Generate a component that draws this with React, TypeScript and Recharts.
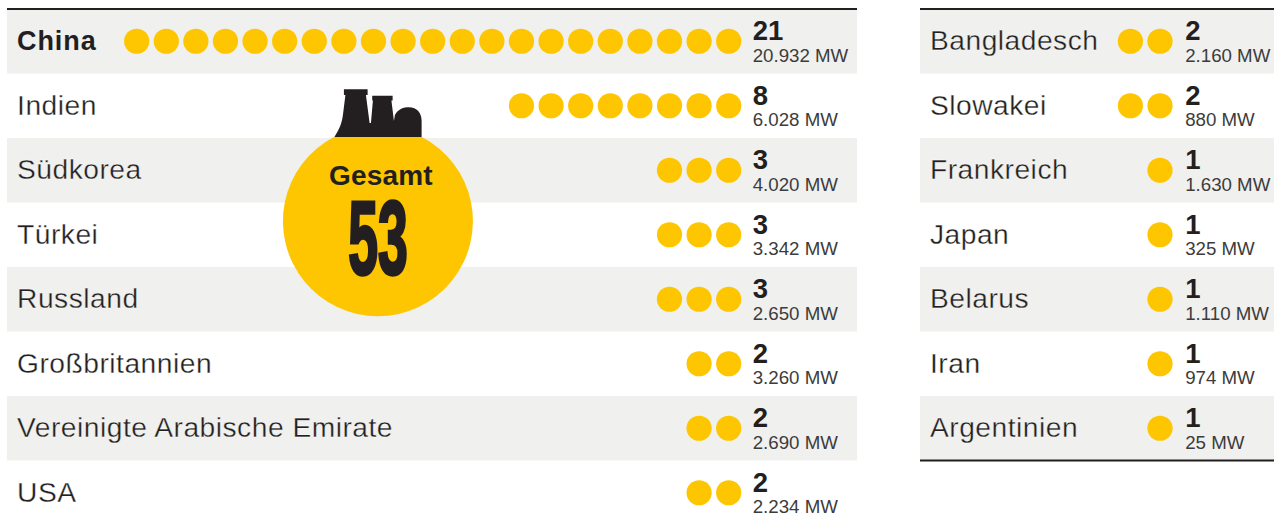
import React from "react";
import { ScatterChart, Scatter, XAxis, YAxis, ReferenceArea, ReferenceLine, ReferenceDot } from "recharts";

const leftCountries = ["China", "Indien", "Südkorea", "Türkei", "Russland", "Großbritannien", "Vereinigte Arabische Emirate", "USA"];
const leftCounts = [21, 8, 3, 3, 3, 2, 2, 2];
const leftMw = ["20.932 MW", "6.028 MW", "4.020 MW", "3.342 MW", "2.650 MW", "3.260 MW", "2.690 MW", "2.234 MW"];
const rightCountries = ["Bangladesch", "Slowakei", "Frankreich", "Japan", "Belarus", "Iran", "Argentinien"];
const rightCounts = [2, 2, 1, 1, 1, 1, 1];
const rightMw = ["2.160 MW", "880 MW", "1.630 MW", "325 MW", "1.110 MW", "974 MW", "25 MW"];
const total = 53;
const totalLabel = "Gesamt";

const YELLOW = "#fec600";
const STRIPE = "#f0f0ee";
const INK = "#231f20";
const FONT = "'Liberation Sans', Arial, sans-serif";

const rowDomain: [number, number] = [-0.5, 7.438];

const dotsFor = (counts: number[]) =>
  counts.flatMap((c, row) => Array.from({ length: c }, (_, i) => ({ slot: i, row })));
const namesFor = (names: string[], slot: number) => names.map((name, row) => ({ slot, row, name }));
const valuesFor = (counts: number[], mw: string[], slot: number) =>
  counts.map((count, row) => ({ slot, row, count, mw: mw[row] }));

const Dot = (p: any) => <circle cx={p.cx} cy={p.cy} r={12.6} fill={YELLOW} />;

const NameLabel = (p: any) => {
  const bold = p.name === "China";
  return (
    <text
      x={p.cx}
      y={p.cy + 8.8}
      fontFamily={FONT}
      fontSize={bold ? 27 : 28.2}
      letterSpacing={bold ? 0.9 : 0.5}
      fontWeight={bold ? 700 : 400}
      fill={INK}
      stroke={bold ? "none" : "#fff"}
      strokeWidth={bold ? 0 : 0.3}
      style={{ paintOrder: "fill" }}
    >
      {p.name}
    </text>
  );
};

const ValueLabel = (p: any) => (
  <g fontFamily={FONT}>
    <text x={p.cx} y={p.cy - 1} fontSize={27.5} fontWeight={700} fill={INK}>
      {p.count}
    </text>
    <text x={p.cx} y={p.cy + 20.5} fontSize={18.7} fill="#3c3c3c">
      {p.mw}
    </text>
  </g>
);

const Badge = (p: any) => {
  const { cx, cy } = p;
  return (
    <g transform={`translate(${cx},${cy})`}>
      <path d="M-44 -84 A95 95 0 1 0 44 -84 Z" fill={YELLOW} />
      <path
        d="M-43.5 -84 C-38 -93 -36 -98 -35 -106 L-32.5 -126 L-34 -126 L-34 -131.7 L-10.3 -131.7 L-10.3 -126 L-12 -126 L-8.3 -98 L-7 -98 L-5 -120.5 L-5.7 -120.5 L-5.7 -125.3 L14.7 -125.3 L14.7 -120.5 L13.5 -120.5 L16 -100 L17 -106 C20 -112 26 -113.7 31 -113.7 C39 -113.7 43.7 -108 43.7 -100 L43.7 -84 Z"
        fill={INK}
      />
      <text x={3} y={-36} textAnchor="middle" fontFamily={FONT} fontSize={28} fontWeight={700} letterSpacing={0.2} fill={INK}>
        {totalLabel}
      </text>
      <text
        transform="translate(0,52.5) scale(0.52,1)"
        textAnchor="middle"
        fontFamily={FONT}
        fontSize={103}
        fontWeight={700}
        fill={INK}
        stroke={INK}
        strokeWidth={3.5}
      >
        {total}
      </text>
    </g>
  );
};

const margin = { top: 9, right: 0, bottom: 0, left: 0 };

function Panel(props: {
  left: number;
  width: number;
  xDomain: [number, number];
  names: string[];
  counts: number[];
  mw: string[];
  nameSlot: number;
  valueSlot: number;
  bottomRule?: boolean;
  children?: React.ReactNode;
}) {
  const { left, width, xDomain, names, counts, mw, nameSlot, valueSlot, bottomRule } = props;
  return (
    <div style={{ position: "absolute", left, top: 0 }}>
      <ScatterChart width={width} height={521} margin={margin}>
        <XAxis type="number" dataKey="slot" domain={xDomain} reversed hide allowDataOverflow />
        <YAxis type="number" dataKey="row" domain={rowDomain} reversed hide allowDataOverflow />
        {names.map((_, r) =>
          r % 2 === 0 ? (
            <ReferenceArea key={r} x1={xDomain[0]} x2={xDomain[1]} y1={r - 0.5} y2={r + 0.5} fill={STRIPE} fillOpacity={1} stroke="none" />
          ) : null
        )}
        <ReferenceLine y={-0.5} stroke={INK} strokeWidth={2} />
        {bottomRule ? <ReferenceLine y={names.length - 0.5} stroke={INK} strokeWidth={2} /> : null}
        <Scatter data={dotsFor(counts)} shape={Dot} isAnimationActive={false} />
        <Scatter data={namesFor(names, nameSlot)} shape={NameLabel} isAnimationActive={false} />
        <Scatter data={valuesFor(counts, mw, valueSlot)} shape={ValueLabel} isAnimationActive={false} />
        {props.children}
      </ScatterChart>
    </div>
  );
}

export default function App() {
  return (
    <div style={{ position: "absolute", left: 0, top: 0, width: 1274, height: 521, overflow: "hidden", background: "#fff" }}>
      <Panel
        left={7}
        width={850}
        xDomain={[-4.334, 24.38]}
        names={leftCountries}
        counts={leftCounts}
        mw={leftMw}
        nameSlot={24.04}
        valueSlot={-0.81}
      >
        <ReferenceDot x={11.85} y={2.787} shape={Badge} />
      </Panel>
      <Panel
        left={920}
        width={354}
        xDomain={[-3.851, 8.108]}
        names={rightCountries}
        counts={rightCounts}
        mw={rightMw}
        nameSlot={7.77}
        valueSlot={-0.85}
        bottomRule
      />
    </div>
  );
}
